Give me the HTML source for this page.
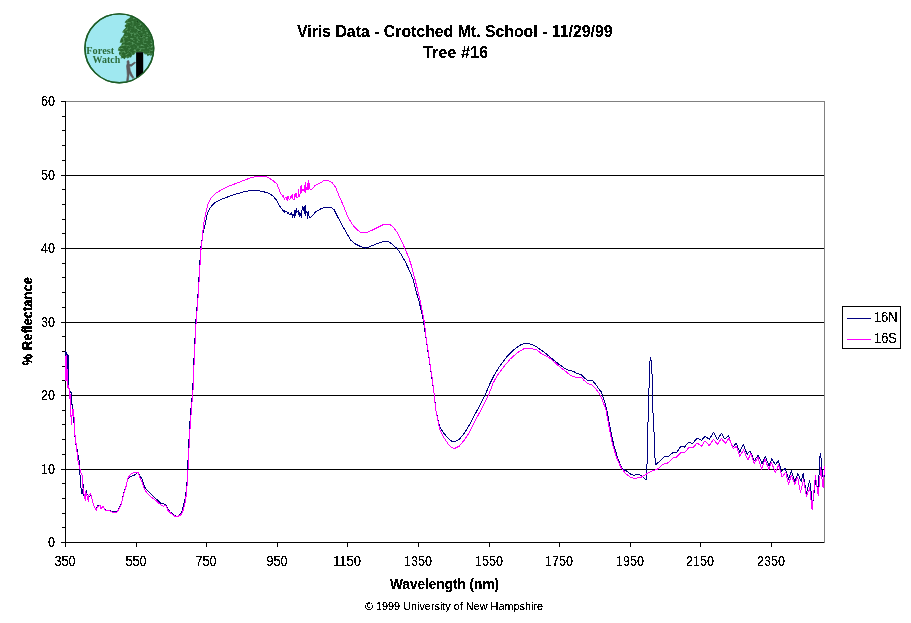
<!DOCTYPE html>
<html><head><meta charset="utf-8"><title>Viris Data - Crotched Mt. School - Tree #16</title>
<style>
html,body{margin:0;padding:0;background:#fff;}
body{width:911px;height:623px;overflow:hidden;font-family:"Liberation Sans",sans-serif;}
svg{display:block;will-change:transform;}
text{font-family:"Liberation Sans",sans-serif;fill:#000;}
.t{font-size:14px;}
.b{font-weight:bold;}
.serif{font-family:"Liberation Serif",serif;}
</style></head><body>
<svg width="911" height="623" viewBox="0 0 911 623">
<defs><filter id="crisp" x="0" y="0" width="100%" height="100%" filterUnits="userSpaceOnUse" color-interpolation-filters="sRGB"><feComponentTransfer><feFuncA type="discrete" tableValues="0 0 1 1 1"/></feComponentTransfer></filter></defs>
<rect x="0" y="0" width="911" height="623" fill="#fff"/>

<g id="logo">
<defs><clipPath id="lc"><circle cx="119.3" cy="48.3" r="34.2"/></clipPath>
<filter id="tx" x="110" y="8" width="50" height="60" filterUnits="userSpaceOnUse" color-interpolation-filters="sRGB"><feTurbulence type="fractalNoise" baseFrequency="0.35 0.6" numOctaves="2" seed="7" result="n"/><feColorMatrix in="n" type="matrix" values="0 0 0 0 0.36  0 0 0 0 0.62  0 0 0 0 0.40  0 0 0 3.2 -1.55" result="spk"/><feComposite in="spk" in2="SourceGraphic" operator="in" result="s2"/><feMerge><feMergeNode in="SourceGraphic"/><feMergeNode in="s2"/></feMerge></filter>
</defs>
<circle cx="119.3" cy="48.3" r="34.4" fill="#9fe8f0" stroke="#1d5c26" stroke-width="1.4"/>
<g clip-path="url(#lc)">
<path filter="url(#tx)" fill="#2b672e" d="M131.5,15 L129.5,18 L127,19.5 L124.6,22.2 L126.6,23.5 L124.5,26 L126,27.5 L123.5,30 L122.2,32.2 L124.4,33 L123.2,35.8 L121,38.5 L119.7,42.4 L122,43 L121,45.6 L118.8,47.5 L117.8,50.4 L120,51 L118.8,53 L119.5,55 L121,56 L120.8,58.4 L123,58 L124.5,59.2 L126,57.3 L127.8,58.5 L129.3,57.2 L131,57.6 L132.3,55 L134,54.8 L136,52.3 L143.2,52.5 L145,54.5 L146.5,54 L147.6,56.2 L149.5,55 L151.2,56 L152.5,53.5 L154.3,52 L160,50 L160,10 L134,10 Z"/>
<g fill="#17451b" opacity="0.8">
<rect x="137" y="21" width="1.2" height="1.2"/><rect x="140.5" y="25.5" width="1.2" height="1.2"/><rect x="138.5" y="31" width="1.1" height="1.1"/><rect x="141" y="36" width="1.1" height="1.4"/>
</g>
<rect x="136.1" y="52.2" width="7.1" height="32" fill="#000"/>
<path fill="#5c5a5c" stroke="#5c5a5c" stroke-width="0.7" stroke-linejoin="round" d="M127.1,61 L128.7,60.6 L129.2,62.6 L128.9,64 L131,64.6 L134.8,62 L135.6,62.8 L131.4,66.2 L129.6,66 L130.2,70.3 L131.8,74 L133.8,77.6 L133,78.6 L130.8,76 L129.4,72.8 L128.8,76.5 L128.2,81.5 L126.6,81.5 L127.3,75.5 L127,70.5 L126.6,66 L127.2,63.6 Z"/>
</g>
<circle cx="119.3" cy="48.3" r="34.4" fill="none" stroke="#1d5c26" stroke-width="1.4"/>
<text class="serif b" x="86.3" y="53.7" style="font-size:9.5px;fill:#2c6b3a" textLength="27.9" lengthAdjust="spacingAndGlyphs">Forest</text>
<text class="serif b" x="92.6" y="63" style="font-size:9.5px;fill:#2c6b3a" textLength="27.6" lengthAdjust="spacingAndGlyphs">Watch</text>
</g>

<g filter="url(#crisp)">
<text x="297" y="37" class="b" style="font-size:16px" textLength="315.5" lengthAdjust="spacingAndGlyphs">Viris Data - Crotched Mt. School - 11/29/99</text>
<text x="423" y="58" class="b" style="font-size:16px" textLength="65" lengthAdjust="spacingAndGlyphs">Tree #16</text>
<g shape-rendering="crispEdges" stroke-width="1" fill="none">
<line x1="65" y1="101.5" x2="825" y2="101.5" stroke="#808080"/>
<line x1="824.5" y1="101" x2="824.5" y2="543" stroke="#808080"/>
<line x1="65" y1="175.5" x2="824" y2="175.5" stroke="#000"/>
<line x1="65" y1="248.5" x2="824" y2="248.5" stroke="#000"/>
<line x1="65" y1="322.5" x2="824" y2="322.5" stroke="#000"/>
<line x1="65" y1="395.5" x2="824" y2="395.5" stroke="#000"/>
<line x1="65" y1="469.5" x2="824" y2="469.5" stroke="#000"/>
<line x1="65.5" y1="101" x2="65.5" y2="543" stroke="#000"/>
<line x1="65" y1="542.5" x2="824" y2="542.5" stroke="#000"/>
<line x1="61" y1="542.5" x2="65" y2="542.5" stroke="#000"/>
<line x1="62" y1="527.5" x2="65" y2="527.5" stroke="#000"/>
<line x1="62" y1="513.5" x2="65" y2="513.5" stroke="#000"/>
<line x1="62" y1="498.5" x2="65" y2="498.5" stroke="#000"/>
<line x1="62" y1="483.5" x2="65" y2="483.5" stroke="#000"/>
<line x1="61" y1="469.5" x2="65" y2="469.5" stroke="#000"/>
<line x1="62" y1="454.5" x2="65" y2="454.5" stroke="#000"/>
<line x1="62" y1="439.5" x2="65" y2="439.5" stroke="#000"/>
<line x1="62" y1="424.5" x2="65" y2="424.5" stroke="#000"/>
<line x1="62" y1="410.5" x2="65" y2="410.5" stroke="#000"/>
<line x1="61" y1="395.5" x2="65" y2="395.5" stroke="#000"/>
<line x1="62" y1="380.5" x2="65" y2="380.5" stroke="#000"/>
<line x1="62" y1="366.5" x2="65" y2="366.5" stroke="#000"/>
<line x1="62" y1="351.5" x2="65" y2="351.5" stroke="#000"/>
<line x1="62" y1="336.5" x2="65" y2="336.5" stroke="#000"/>
<line x1="61" y1="322.5" x2="65" y2="322.5" stroke="#000"/>
<line x1="62" y1="307.5" x2="65" y2="307.5" stroke="#000"/>
<line x1="62" y1="292.5" x2="65" y2="292.5" stroke="#000"/>
<line x1="62" y1="277.5" x2="65" y2="277.5" stroke="#000"/>
<line x1="62" y1="263.5" x2="65" y2="263.5" stroke="#000"/>
<line x1="61" y1="248.5" x2="65" y2="248.5" stroke="#000"/>
<line x1="62" y1="233.5" x2="65" y2="233.5" stroke="#000"/>
<line x1="62" y1="219.5" x2="65" y2="219.5" stroke="#000"/>
<line x1="62" y1="204.5" x2="65" y2="204.5" stroke="#000"/>
<line x1="62" y1="189.5" x2="65" y2="189.5" stroke="#000"/>
<line x1="61" y1="175.5" x2="65" y2="175.5" stroke="#000"/>
<line x1="62" y1="160.5" x2="65" y2="160.5" stroke="#000"/>
<line x1="62" y1="145.5" x2="65" y2="145.5" stroke="#000"/>
<line x1="62" y1="130.5" x2="65" y2="130.5" stroke="#000"/>
<line x1="62" y1="116.5" x2="65" y2="116.5" stroke="#000"/>
<line x1="61" y1="101.5" x2="65" y2="101.5" stroke="#000"/>
<line x1="65.5" y1="542" x2="65.5" y2="547" stroke="#000"/>
<line x1="136.5" y1="542" x2="136.5" y2="547" stroke="#000"/>
<line x1="206.5" y1="542" x2="206.5" y2="547" stroke="#000"/>
<line x1="277.5" y1="542" x2="277.5" y2="547" stroke="#000"/>
<line x1="347.5" y1="542" x2="347.5" y2="547" stroke="#000"/>
<line x1="418.5" y1="542" x2="418.5" y2="547" stroke="#000"/>
<line x1="489.5" y1="542" x2="489.5" y2="547" stroke="#000"/>
<line x1="559.5" y1="542" x2="559.5" y2="547" stroke="#000"/>
<line x1="630.5" y1="542" x2="630.5" y2="547" stroke="#000"/>
<line x1="700.5" y1="542" x2="700.5" y2="547" stroke="#000"/>
<line x1="771.5" y1="542" x2="771.5" y2="547" stroke="#000"/>
</g>
<text class="t" x="41" y="106" textLength="14" lengthAdjust="spacingAndGlyphs">60</text>
<text class="t" x="41" y="180" textLength="14" lengthAdjust="spacingAndGlyphs">50</text>
<text class="t" x="41" y="253" textLength="14" lengthAdjust="spacingAndGlyphs">40</text>
<text class="t" x="41" y="327" textLength="14" lengthAdjust="spacingAndGlyphs">30</text>
<text class="t" x="41" y="400" textLength="14" lengthAdjust="spacingAndGlyphs">20</text>
<text class="t" x="41" y="474" textLength="14" lengthAdjust="spacingAndGlyphs">10</text>
<text class="t" x="48" y="547" textLength="7" lengthAdjust="spacingAndGlyphs">0</text>
<text class="t" x="54.5" y="566" textLength="21" lengthAdjust="spacingAndGlyphs">350</text>
<text class="t" x="125.5" y="566" textLength="21" lengthAdjust="spacingAndGlyphs">550</text>
<text class="t" x="195.5" y="566" textLength="21" lengthAdjust="spacingAndGlyphs">750</text>
<text class="t" x="266.5" y="566" textLength="21" lengthAdjust="spacingAndGlyphs">950</text>
<text class="t" x="333.0" y="566" textLength="28" lengthAdjust="spacingAndGlyphs">1150</text>
<text class="t" x="404.0" y="566" textLength="28" lengthAdjust="spacingAndGlyphs">1350</text>
<text class="t" x="475.0" y="566" textLength="28" lengthAdjust="spacingAndGlyphs">1550</text>
<text class="t" x="545.0" y="566" textLength="28" lengthAdjust="spacingAndGlyphs">1750</text>
<text class="t" x="616.0" y="566" textLength="28" lengthAdjust="spacingAndGlyphs">1950</text>
<text class="t" x="686.0" y="566" textLength="28" lengthAdjust="spacingAndGlyphs">2150</text>
<text class="t" x="757.0" y="566" textLength="28" lengthAdjust="spacingAndGlyphs">2350</text>
<text class="t b" x="390" y="589" textLength="109" lengthAdjust="spacingAndGlyphs">Wavelength (nm)</text>
<text class="t b" transform="translate(32.4,365.5) rotate(-90)" textLength="88.5" lengthAdjust="spacingAndGlyphs">% Reflectance</text>
<text x="365" y="610" style="font-size:11px" textLength="178" lengthAdjust="spacingAndGlyphs">© 1999 University of New Hampshire</text>
</g>
<g shape-rendering="crispEdges" fill="none" stroke-width="1" stroke-linejoin="round">
<polyline stroke="#000080" points="65.5,381.0 65.5,351.0 66.5,370.0 66.5,352.0 67.5,380.0 67.5,354.5 68.5,370.0 68.5,355.0 68.5,388.0 69.5,389.5 70.5,392.0 71.3,392.7 71.3,404.0 72.4,404.0 72.4,409.0 73.2,409.0 74.1,424.7 74.1,430.5 74.7,435.0 76.0,444.6 77.3,450.4 78.4,458.0 79.2,460.6 79.2,470.6 80.5,477.7 80.5,487.5 81.5,488.5 81.5,493.5 82.5,490.5 82.5,493.5 83.5,484.5 83.5,495.5 84.5,494.5 84.5,497.5 85.5,496.0 86.5,490.5 86.5,493.5 88.5,495.5 88.5,497.5 90.5,495.5 91.6,497.1 92.9,502.4 94.7,507.7 96.4,510.3 97.3,506.0 100.0,505.0 100.9,508.0 103.1,506.0 105.3,510.0 109.7,510.8 112.3,511.5 116.7,511.8 119.4,508.0 121.6,502.5 123.4,494.5 125.6,487.5 127.8,479.4 129.8,476.9 134.6,475.0 138.0,472.1 142.3,479.8 144.7,487.0 146.7,489.9 151.0,493.8 156.8,499.5 161.1,503.6 165.4,504.3 167.3,507.7 169.3,511.1 174.1,515.4 177.9,516.4 181.8,512.0 183.7,504.3 185.2,498.6 186.1,490.9 187.1,481.2 187.6,469.7 188.6,445.9 190.0,420.9 191.7,400.0 192.5,395.7 193.9,360.2 195.8,322.0 198.0,294.6 200.7,248.2 201.4,243.8 203.0,233.0 205.3,223.6 207.4,213.4 209.6,208.4 213.9,203.3 220.4,199.7 229.1,196.4 237.8,193.5 245.0,191.5 252.2,190.3 259.4,190.8 266.7,192.5 272.4,195.4 276.8,200.4 278.5,203.9 279.5,205.9 280.5,207.3 281.5,208.8 282.5,209.5"/>
<path stroke="#000080" d="M282.5 209V211M283.5 210V212M284.5 210V213M285.5 211V212M286.5 211V212M287.5 212V214M288.5 212V214M289.5 214V215M290.5 213V215M291.5 212V215M292.5 214V218M293.5 214V216M294.5 210V218M295.5 210V216M296.5 208V213M297.5 211V212M298.5 210V215M299.5 212V217M300.5 213V216M301.5 210V218M302.5 206V210M303.5 207V211M304.5 206V214M305.5 205V216M306.5 211V213M307.5 212V219M308.5 211V216M309.5 216V218M310.5 217V218M311.5 216V217M312.5 215V216M313.5 214V215"/>
<polyline stroke="#000080" points="313.5,214.5 314.5,213.2 315.5,212.0 320.5,209.0 323.3,208.0 330.6,207.1 334.2,209.8 337.8,217.1 342.1,225.0 346.4,232.9 350.8,240.2 355.1,243.8 360.9,246.7 365.2,248.1 369.6,246.7 376.8,243.8 384.3,241.2 388.7,241.5 393.0,245.1 397.3,248.7 401.7,255.2 406.0,263.2 410.3,272.6 413.2,279.8 416.1,291.3 419.0,301.4 421.9,313.0 423.8,323.1 425.7,336.4 427.9,350.7 430.0,365.0 432.1,379.3 434.3,395.0 435.7,409.3 437.9,419.7 440.0,427.1 443.6,432.9 447.9,437.9 451.4,441.0 455.0,441.4 459.3,439.3 463.6,434.3 468.6,426.4 474.3,415.7 480.0,405.0 485.0,395.0 490.0,383.6 494.3,375.0 500.0,365.7 507.1,356.4 514.3,349.3 521.4,344.3 526.4,343.2 531.4,344.3 537.1,347.1 542.9,351.4 548.6,355.7 554.3,360.7 560.0,365.0 565.0,368.6 568.6,370.4 572.9,371.1 577.1,373.6 581.4,374.7 584.3,377.9 587.9,380.4 592.1,380.3 595.7,384.3 598.6,388.6 601.4,392.1 603.6,398.6 605.7,405.7 607.1,411.4 610.0,427.1 613.6,444.3 617.9,458.6 622.1,468.6 626.4,471.0 631.4,474.6 634.3,475.3 637.1,474.0 641.4,475.7 645.0,479.0 645.5,479.5 646.5,479.5"/>
<path stroke="#000080" d="M646.5 464V480M647.5 422V464M648.5 388V422M649.5 361V388M650.5 357V361M651.5 360V374M652.5 374V413M653.5 413V432M654.5 432V458M655.5 458V465"/>
<polyline stroke="#000080" points="655.5,464.5 656.5,464.0 660.3,460.6 664.3,456.9 668.6,456.1 672.9,452.6 677.1,452.1 680.7,446.4 684.3,447.1 688.6,442.6 692.9,443.3 697.1,438.1 701.4,440.4 705.0,436.4 709.3,439.3 713.6,432.1 717.4,440.0 721.4,433.3 725.0,439.3 728.3,435.4 732.6,447.6 736.1,442.9 739.7,452.1 743.3,444.3 747.1,454.3 750.0,450.7 754.3,460.7 758.3,455.0 762.1,463.6 765.4,456.4 769.0,465.7 771.9,458.6 775.4,465.0 778.3,460.4 781.4,471.4 785.3,468.3 788.6,479.3 791.4,470.7 794.7,481.4 797.9,473.6 801.1,481.4 803.1,473.6 806.4,493.6 809.7,480.7 812.6,504.3 815.7,479.3 818.3,492.1 819.7,457.9 820.7,453.3 821.7,467.9 823.6,480.7 824.6,470.7"/>
<polyline stroke="#ff00ff" points="65.5,356.0 65.5,381.0 66.5,356.0 66.5,381.0 67.5,370.0 67.5,388.0 68.4,385.0 68.4,388.8 69.6,389.0 69.6,399.0 70.5,395.0 71.2,424.7 72.6,409.0 73.8,409.4 74.4,429.9 75.4,438.8 76.4,446.5 77.3,454.2 77.6,460.0 79.2,465.3 80.5,471.5 82.3,475.9 82.8,486.5 83.6,491.8 85.4,500.6 85.8,491.8 87.2,497.1 88.5,501.5 88.9,495.3 90.3,493.4 91.6,497.1 92.9,502.4 94.7,507.7 96.4,510.3 97.3,506.8 100.0,505.5 100.9,509.0 103.1,505.9 105.3,510.8 109.7,510.8 112.3,512.1 116.7,512.1 119.4,508.6 121.6,503.3 123.4,495.3 125.6,488.3 127.9,478.4 129.8,475.0 132.2,473.1 138.0,472.1 139.4,476.4 141.8,481.2 143.8,487.5 146.2,491.8 150.0,496.2 155.8,500.5 160.6,504.8 163.0,506.1 165.9,505.8 167.8,510.1 171.2,513.5 174.6,516.1 177.9,516.4 181.3,514.5 183.2,510.1 184.7,504.3 185.8,498.6 186.6,490.9 187.4,481.2 188.0,469.7 189.1,445.9 190.5,420.9 192.2,400.0 192.8,395.7 194.2,360.2 196.1,322.0 198.3,294.6 201.0,248.2 201.4,249.6 202.4,235.1 203.8,223.6 206.0,212.0 208.2,203.3 211.1,197.8 215.4,193.5 221.9,189.6 229.1,186.0 237.8,182.8 245.0,179.9 252.2,177.3 259.4,176.2 266.7,176.8 272.4,180.2 276.8,183.8 278.5,187.8 279.5,190.6 280.5,192.8 281.5,194.8 282.5,195.5"/>
<path stroke="#ff00ff" d="M282.5 195V197M283.5 195V198M284.5 198V200M285.5 197V198M286.5 197V200M287.5 196V201M288.5 196V199M289.5 199V200M290.5 196V199M291.5 195V198M292.5 194V199M293.5 199V200M294.5 194V200M295.5 193V197M296.5 193V198M297.5 197V198M298.5 189V197M299.5 194V197M300.5 186V194M301.5 185V193M302.5 189V191M303.5 189V191M304.5 185V192M305.5 182V193M306.5 187V190M307.5 183V190M308.5 180V190M309.5 183V189M310.5 189V190M311.5 189V190M312.5 188V189M313.5 187V188"/>
<polyline stroke="#ff00ff" points="313.5,187.5 314.5,186.1 315.5,185.1 317.0,184.5 319.0,183.6 321.0,182.6 323.3,181.0 327.7,180.2 332.0,182.4 335.6,187.4 339.2,196.1 343.6,206.2 347.9,217.1 352.2,224.3 356.6,229.3 360.9,232.7 365.2,233.0 372.4,230.1 379.7,226.4 384.0,224.3 389.1,224.0 392.7,226.4 397.0,232.2 401.3,240.2 405.3,249.4 408.9,258.1 411.8,266.8 414.7,278.3 417.6,289.9 420.4,301.4 422.6,313.0 424.5,323.1 425.9,336.4 428.1,350.7 430.2,365.0 432.3,379.3 434.3,395.7 435.7,409.3 437.9,420.7 440.0,430.0 443.6,437.1 447.9,443.6 452.1,447.9 455.0,448.3 459.3,446.1 464.3,440.0 470.0,431.4 477.1,417.1 482.9,406.4 488.6,395.0 492.9,383.6 497.1,375.7 502.9,367.9 510.0,359.3 517.1,352.9 524.3,348.6 530.0,348.3 537.1,350.0 542.1,354.3 548.6,357.1 554.3,362.1 560.0,367.1 565.7,371.4 570.7,375.7 575.7,377.1 581.4,377.4 584.3,380.7 587.9,383.6 591.4,384.6 595.7,388.6 599.3,393.6 602.1,399.3 605.0,407.1 605.7,408.6 608.6,424.3 612.1,442.9 616.4,457.1 620.7,467.1 625.7,473.6 631.4,477.9 635.7,478.3 641.4,477.1 647.1,473.6 652.9,470.7 658.6,468.6 662.9,464.3 667.9,462.9 672.9,457.9 676.4,457.1 680.7,452.9 685.0,452.1 688.6,447.9 692.9,447.9 697.1,442.9 701.4,446.4 705.0,440.7 709.3,445.7 713.6,439.3 717.4,444.3 721.4,438.6 725.4,443.3 729.0,437.9 733.3,448.6 736.4,446.4 739.7,456.4 743.6,450.0 747.9,460.0 750.7,453.6 754.3,463.6 757.9,457.1 761.7,469.3 765.0,459.3 768.9,469.3 771.4,462.1 775.3,472.9 778.6,465.0 782.1,477.1 785.7,472.1 788.6,484.3 791.4,475.0 794.7,484.3 797.6,477.1 800.4,492.1 803.6,479.3 806.4,496.4 809.7,487.9 812.1,509.3 815.4,475.7 818.3,495.7 820.7,467.9 823.1,487.9 824.7,465.7"/>
</g>
<g shape-rendering="crispEdges">
<rect x="842.5" y="306.5" width="58" height="42" fill="#fff" stroke="#000" stroke-width="1"/>
<line x1="847" y1="318.5" x2="871" y2="318.5" stroke="#000080"/>
<line x1="847" y1="339.5" x2="871" y2="339.5" stroke="#ff00ff"/>
</g>
<g filter="url(#crisp)">
<text class="t" x="874" y="322" textLength="23.5" lengthAdjust="spacingAndGlyphs">16N</text>
<text class="t" x="874" y="343" textLength="23" lengthAdjust="spacingAndGlyphs">16S</text>
</g>
</svg></body></html>
